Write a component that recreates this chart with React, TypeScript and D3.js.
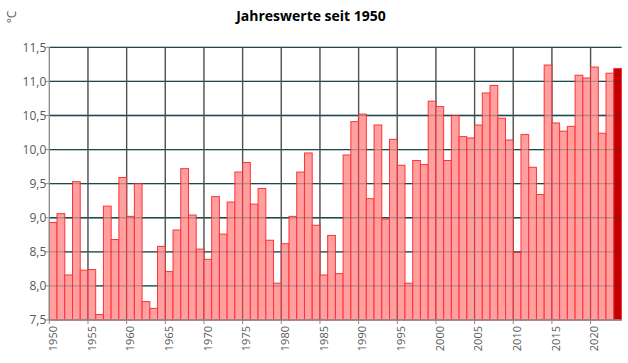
import React from "react";
import * as d3 from "d3";

const years: number[] = d3.range(1950, 2024);
const values: number[] = [
  8.93, 9.06, 8.16, 9.53, 8.23, 8.24, 7.58, 9.17, 8.68, 9.59,
  9.02, 9.5, 7.77, 7.67, 8.58, 8.21, 8.82, 9.72, 9.04, 8.54,
  8.39, 9.31, 8.76, 9.23, 9.67, 9.81, 9.2, 9.43, 8.67, 8.04,
  8.62, 9.02, 9.67, 9.95, 8.89, 8.16, 8.74, 8.18, 9.92, 10.41,
  10.52, 9.28, 10.36, 8.98, 10.15, 9.77, 8.04, 9.84, 9.78, 10.71,
  10.63, 9.84, 10.5, 10.19, 10.17, 10.36, 10.83, 10.94, 10.46, 10.14,
  8.49, 10.22, 9.74, 9.34, 11.24, 10.39, 10.27, 10.34, 11.09, 11.05,
  11.21, 10.24, 11.12, 11.19,
];
const yTicks: number[] = [7.5, 8.0, 8.5, 9.0, 9.5, 10.0, 10.5, 11.0, 11.5];
const xTickYears: number[] = d3.range(1950, 2024, 5);
const title = "Jahreswerte seit 1950";
const unit = "°C";

const W = 628;
const H = 363;
const left = 49.3;
const right = 621.5;
const top = 47.3;
const bottom = 320;

export default function App() {
  const x = d3.scaleBand<number>().domain(years).range([left, right]).padding(0);
  const y = d3.scaleLinear().domain([7.5, 11.5]).range([bottom, top]);
  const fmt = (v: number) => v.toFixed(1).replace(".", ",");
  const font = "'Open Sans', 'DejaVu Sans', sans-serif";
  const last = years[years.length - 1];

  const grid = (op: number, key: string) => (
    <g key={key} opacity={op}>
      {yTicks.slice(1).map((t) => (
        <line key={"h" + t} x1={left} x2={right} y1={y(t)} y2={y(t)} stroke="#1d4a4c" strokeWidth={1.3} />
      ))}
      {xTickYears.slice(1).map((yr) => (
        <line key={"v" + yr} x1={x(yr)!} x2={x(yr)!} y1={top} y2={bottom} stroke="#505050" strokeWidth={1.3} />
      ))}
    </g>
  );

  return (
    <svg width={W} height={H} style={{ position: "absolute", left: 0, top: 0, background: "#fff" }}>
      <text x={W / 2 - 3} y={21} textAnchor="middle" fontFamily={font} fontWeight="bold" fontSize={14} fill="#000">
        {title}
      </text>
      <text transform="translate(16,17) rotate(-90)" textAnchor="middle" fontFamily={font} fontSize={12} fill="#595959">
        {unit}
      </text>
      {grid(1, "g1")}
      {years.map((yr, i) => (
        <rect
          key={yr}
          x={x(yr)!}
          y={y(values[i])}
          width={x.bandwidth()}
          height={bottom - y(values[i])}
          fill={yr === last ? "#c00000" : "#ff9f9f"}
          stroke="#ff3333"
          strokeWidth={1}
        />
      ))}
      {grid(0.3, "g2")}
      <line x1={left} x2={left} y1={top} y2={bottom} stroke="#8a8a8a" strokeWidth={1.3} />
      <line x1={left} x2={right} y1={bottom} y2={bottom} stroke="#8a8a8a" strokeWidth={1.3} />
      {yTicks.map((t) => (
        <g key={"yt" + t}>
          <line x1={left - 4} x2={left} y1={y(t)} y2={y(t)} stroke="#8a8a8a" />
          <text x={left - 3} y={y(t)} dy="0.35em" textAnchor="end" fontFamily={font} fontSize={12} fill="#595959">
            {fmt(t)}
          </text>
        </g>
      ))}
      {xTickYears.map((yr) => (
        <g key={"xt" + yr}>
          <line x1={x(yr)!} x2={x(yr)!} y1={bottom} y2={bottom + 4} stroke="#8a8a8a" />
          <text
            transform={`translate(${x(yr)! + 4},${bottom + 6}) rotate(-90)`}
            textAnchor="end"
            dy="0.35em"
            fontFamily={font}
            fontSize={11}
            fill="#595959"
          >
            {yr}
          </text>
        </g>
      ))}
    </svg>
  );
}
